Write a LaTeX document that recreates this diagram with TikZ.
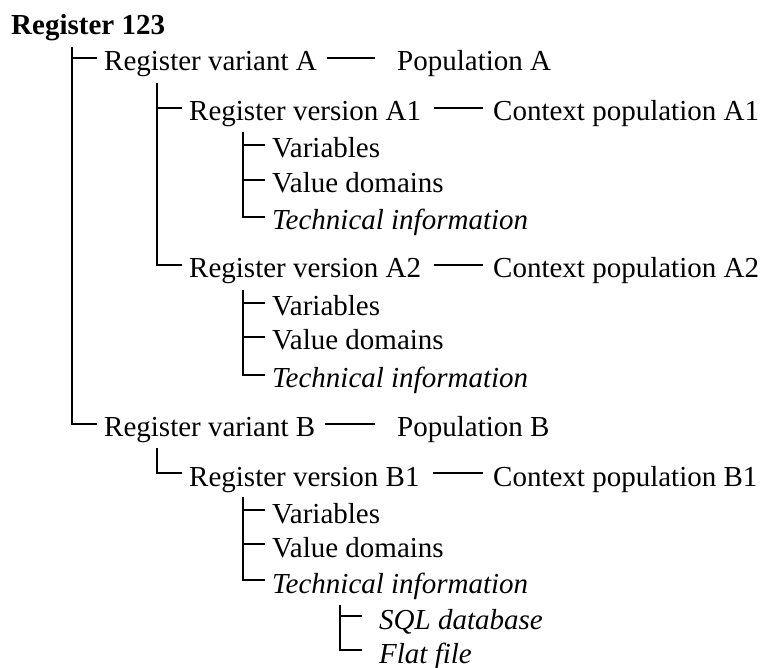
\documentclass[tikz,border=0pt]{standalone}
\usepackage{fontspec}
\setmainfont{Liberation Serif}
\begin{document}
\begin{tikzpicture}[x=1pt,y=-1pt,
  every node/.style={font=\fontsize{29pt}{34pt}\selectfont, inner xsep=7pt, inner ysep=0pt,
    text height=26pt, text depth=0pt, anchor=west},
  itnode/.style={font=\fontsize{29pt}{34pt}\selectfont\itshape},
  bfnode/.style={font=\fontsize{29pt}{34pt}\selectfont\bfseries},
  conn/.style={line width=1.2pt}]
\useasboundingbox (0,0) rectangle (761,668);
% nodes
\node[bfnode] (r) at (4,22) {Register 123};
\node (va) at (97,58) {Register variant A};
\node (pa) at (390,58) {Population A};
\node (a1) at (182,108) {Register version A1};
\node (ca1) at (486,108) {Context population A1};
\node (v1) at (265,145) {Variables};
\node (d1) at (265,180) {Value domains};
\node[itnode] (t1) at (265,217) {Technical information};
\node (a2) at (182,265) {Register version A2};
\node (ca2) at (486,265) {Context population A2};
\node (v2) at (265,303) {Variables};
\node (d2) at (265,337) {Value domains};
\node[itnode] (t2) at (265,375) {Technical information};
\node (vb) at (97,424) {Register variant B};
\node (pb) at (390,424) {Population B};
\node (b1) at (182,473) {Register version B1};
\node (cb1) at (486,473) {Context population B1};
\node (v3) at (265,510) {Variables};
\node (d3) at (265,544) {Value domains};
\node[itnode] (t3) at (265,580) {Technical information};
\node[itnode] (sql) at (372,616) {SQL database};
\node[itnode] (ff) at (372,650) {Flat file};
% tree trunks
\coordinate (c0) at (72,47);
\coordinate (cA) at (157,83);
\coordinate (cA1) at (243,132);
\coordinate (cA2) at (243,290);
\coordinate (cB) at (157,448);
\coordinate (cB1) at (243,497);
\coordinate (cT) at (340,605);
\draw[conn] (c0) |- (va.west);
\draw[conn] (c0) |- (vb.west);
\draw[conn] (cA) |- (a1.west);
\draw[conn] (cA) |- (a2.west);
\draw[conn] (cA1) |- (v1.west);
\draw[conn] (cA1) |- (d1.west);
\draw[conn] (cA1) |- (t1.west);
\draw[conn] (cA2) |- (v2.west);
\draw[conn] (cA2) |- (d2.west);
\draw[conn] (cA2) |- (t2.west);
\draw[conn] (cB) |- (b1.west);
\draw[conn] (cB1) |- (v3.west);
\draw[conn] (cB1) |- (d3.west);
\draw[conn] (cB1) |- (t3.west);
\draw[conn] (cT) |- ([xshift=-10pt]sql.west);
\draw[conn] (cT) |- ([xshift=-10pt]ff.west);
% side links
\draw[conn] ([xshift=3pt]va.east) -- ([xshift=-15pt]pa.west);
\draw[conn] ([xshift=3pt]vb.east) -- ([xshift=-15pt]pb.west);
\draw[conn] ([xshift=6pt]a1.east) -- ([xshift=-3pt]ca1.west);
\draw[conn] ([xshift=6pt]a2.east) -- ([xshift=-3pt]ca2.west);
\draw[conn] ([xshift=6pt]b1.east) -- ([xshift=-3pt]cb1.west);
\end{tikzpicture}
\end{document}
